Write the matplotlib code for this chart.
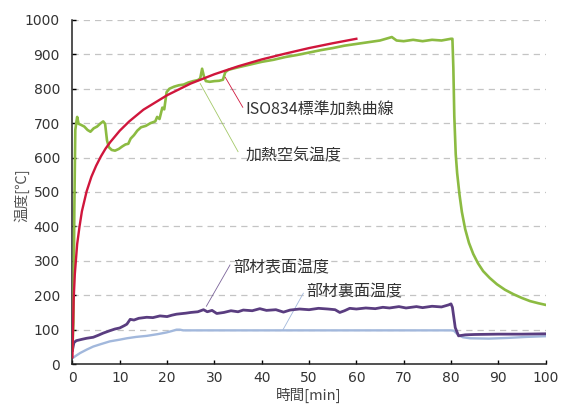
import matplotlib

matplotlib.use("Agg")
import matplotlib.pyplot as plt

plt.rcParams["font.family"] = ["Noto Sans CJK JP", "DejaVu Sans"]

# ISO834 standard heating curve
iso_t = [0, 0.1, 0.25, 0.5, 1, 1.5, 2, 3, 4, 5, 6, 7, 8, 10, 12, 15, 20, 25,
         30, 35, 40, 45, 50, 55, 60]
iso_v = [20, 95, 185, 261, 349, 400, 444, 502, 544, 576, 603, 626, 645, 678,
         705, 739, 781, 815, 842, 865, 885, 902, 918, 932, 945]

# heated air temperature
air_t = [0, 0.2, 0.4, 0.6, 0.8, 1.0, 1.3, 1.8, 2.5, 3.2, 3.8, 4.5, 5.2, 6.0,
         6.5, 6.9, 7.3, 7.7, 8.3, 9.0, 9.8, 10.5, 11.2, 11.8, 12.3, 13.0, 13.7,
         14.5, 15.5, 16.5, 17.5, 17.9, 18.4, 19.0, 19.4, 19.9, 20.5, 21.5, 22.5,
         23.5, 24.5, 25.5, 26.5, 27.0, 27.4, 27.8, 28.2, 29.0, 30.0, 31.0, 31.8,
         32.3, 33.0, 35.0, 37.5, 40.0, 42.5, 45.0, 47.5, 50.0, 52.5, 55.0, 57.5,
         60.0, 62.5, 65.0, 67.5, 68.5, 70.0, 72.0, 74.0, 76.0, 78.0, 80.0, 80.3,
         80.5, 80.7, 81.0, 81.3, 81.8, 82.3, 83.0, 83.8, 84.7, 85.7, 86.8, 88.2,
         89.7, 91.4, 93.2, 95.0, 96.7, 98.4, 100]
air_v = [45, 120, 450, 680, 700, 718, 698, 695, 690, 680, 675, 685, 690, 700,
         705, 698, 650, 630, 622, 620, 625, 632, 638, 640, 655, 665, 678,
         688, 692, 700, 705, 718, 712, 745, 740, 790, 800, 806, 810,
         812, 818, 822, 825, 830, 858, 835, 822, 820, 822, 823, 826,
         848, 855, 862, 870, 878, 884, 892, 898, 905, 912, 918, 925,
         930, 935, 940, 950, 940, 938, 942, 938, 942, 940, 945, 945,
         860, 720, 610, 555, 492, 442, 392, 352, 320, 293, 270, 250,
         232, 216, 203, 192, 183, 177, 172]

# member surface temperature
surf_t = [0, 0.3, 0.8, 2, 3, 4.4, 5.5, 6.5, 7.9, 9, 10, 11, 11.5, 12.2, 13, 14,
          15.7, 17, 18.5, 20, 21, 22, 24, 25, 26.5, 27.7, 28.5, 29.5, 30.5, 32,
          33.5, 35, 36.1, 38, 39.6, 41, 43, 44.6, 46, 48, 50, 52, 54, 55.5,
          56.5, 57.5, 58.6, 60, 62, 64, 65.6, 67, 69, 70.5, 72.7, 74, 76, 78,
          79.5, 80.0, 80.3, 80.9, 81.6, 83, 85, 90, 95, 100]
surf_v = [40, 62, 68, 72, 75, 78, 84, 90, 97, 102, 105, 112, 116, 130, 128, 133,
          136, 135, 140, 138, 142, 145, 148, 150, 152, 158, 152, 156, 147, 150,
          155, 152, 157, 155, 161, 156, 158, 151, 157, 160, 158, 162, 160, 158,
          150, 155, 162, 160, 163, 161, 165, 163, 167, 163, 167, 164, 168, 166,
          172, 175, 165, 106, 82, 85, 86, 87, 87, 88]

# member back-face temperature
back_t = [0, 0.5, 1.6, 3, 4.4, 6, 7.9, 10, 11.5, 13.5, 15.7, 18, 19.9, 21, 22,
          22.7, 23.4, 30, 40, 50, 60, 70, 80, 80.6, 81.5, 82.5, 84, 88, 92,
          96, 100]
back_v = [17, 22, 32, 42, 51, 58, 66, 71, 75, 79, 82, 87, 92, 96, 100,
          100, 98, 98, 98, 98, 98, 98, 98, 97, 85, 78, 75, 74, 76,
          79, 81]

RED = "#d0163c"
GREEN = "#8cbb42"
PURPLE = "#5a3d80"
BLUE = "#a2b8dc"
TXT = "#333333"

fig = plt.figure(figsize=(5.66, 4.05), dpi=100)
ax = fig.add_axes([0.128, 0.101, 0.836, 0.85])

for y in range(100, 1001, 100):
    ax.axhline(y, color="#c4c4c4", lw=0.9, ls=(0, (5, 4)), zorder=0)

ax.plot(back_t, back_v, color=BLUE, lw=1.7, zorder=2)
ax.plot(surf_t, surf_v, color=PURPLE, lw=2.0, zorder=3)
ax.plot(air_t, air_v, color=GREEN, lw=1.9, zorder=3)
ax.plot(iso_t, iso_v, color=RED, lw=1.7, zorder=4)

ax.set_xlim(0, 100)
ax.set_ylim(0, 1000)
ax.set_xticks(range(0, 101, 10))
ax.set_yticks(range(0, 1001, 100))
for s in ["top", "right"]:
    ax.spines[s].set_visible(False)
for s in ["left", "bottom"]:
    ax.spines[s].set_color("#222222")
    ax.spines[s].set_linewidth(1.1)
ax.tick_params(axis="x", direction="in", length=3, width=1, pad=5,
               labelsize=10, labelcolor=TXT)
ax.tick_params(axis="y", direction="in", length=3, width=1, pad=9,
               labelsize=10, labelcolor=TXT)
for lab in ax.get_xticklabels() + ax.get_yticklabels():
    lab.set_family("DejaVu Sans")

ax.set_xlabel("時間[min]", fontsize=10.5, color="#444444", labelpad=2)
ax.set_ylabel("温度[℃]", fontsize=10.5, color="#555555")
ax.yaxis.set_label_coords(-0.09, 0.49)

# leader lines + labels
ax.plot([32.3, 36.0], [833, 746], color=RED, lw=0.6)
ax.text(36.5, 737, "ISO834標準加熱曲線", fontsize=11.5, color=TXT, va="center")
ax.plot([27.0, 35.0], [815, 617], color=GREEN, lw=0.6, alpha=0.8)
ax.text(36.5, 605, "加熱空気温度", fontsize=11.5, color=TXT, va="center")
ax.plot([28.3, 33.3], [168, 288], color=PURPLE, lw=0.6, alpha=0.8)
ax.text(34.0, 280, "部材表面温度", fontsize=11.5, color=TXT, va="center")
ax.plot([44.5, 48.8], [100, 206], color=BLUE, lw=0.6)
ax.text(49.5, 210, "部材裏面温度", fontsize=11.5, color=TXT, va="center")

fig.savefig("out.png", dpi=100)
